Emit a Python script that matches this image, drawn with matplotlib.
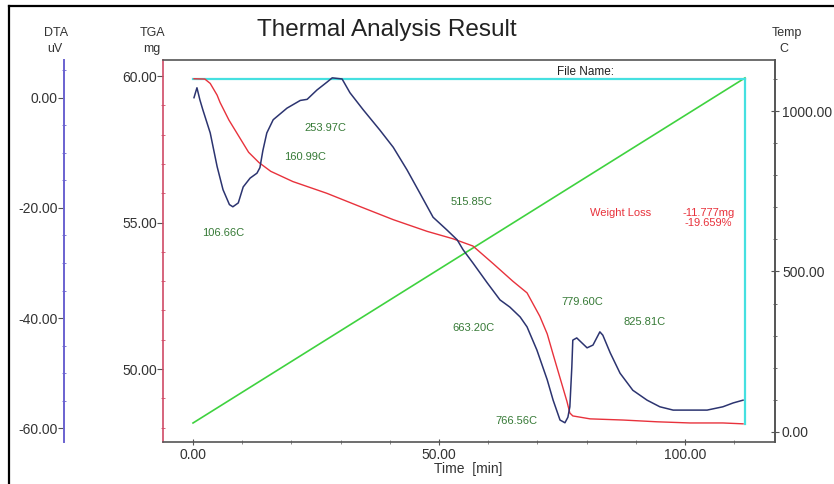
import matplotlib
matplotlib.use('Agg')
import matplotlib.pyplot as plt
from matplotlib.ticker import MultipleLocator, FormatStrFormatter

# DTA curve (time min, uV)
dta_t = [0.2, 0.8, 1.4, 2.0, 3.5, 4.9, 6.1, 7.4, 8.1, 9.2, 10.2, 11.6, 13.0, 13.6, 14.2, 15.0, 16.3,
         19.1, 21.8, 23.2, 25.2, 27.2, 28.3, 30.3, 31.9, 34.6, 38.0, 40.7, 43.5, 46.1, 48.8, 51.6,
         53.7, 54.9, 56.9, 59.8, 62.4, 64.4, 66.5, 67.9, 69.9, 72.0, 73.2, 74.6, 75.6, 76.2, 76.6,
         77.0, 77.2, 78.0, 80.1, 81.3, 82.7, 83.3, 84.8, 86.8, 89.4, 92.3, 94.9, 97.6, 101.0,
         104.5, 107.7, 109.8, 111.8]
dta_v = [0.0, 1.8, -0.4, -2.2, -6.4, -12.5, -16.7, -19.4, -19.8, -19.1, -16.2, -14.6, -13.7, -12.7,
         -9.6, -6.4, -4.0, -1.9, -0.5, -0.3, 1.4, 2.8, 3.6, 3.4, 0.9, -2.2, -5.9, -9.0, -13.1,
         -17.3, -21.7, -24.0, -25.8, -27.6, -30.0, -33.6, -36.7, -38.0, -39.8, -41.6, -45.8, -51.2,
         -54.9, -58.5, -59.0, -58.0, -56.1, -48.9, -44.0, -43.6, -45.4, -44.9, -42.5, -43.1, -46.3,
         -50.0, -53.1, -54.9, -56.1, -56.7, -56.7, -56.7, -56.1, -55.4, -54.9]

# TGA curve (time min, mg)
tga_t = [0.2, 2.4, 3.5, 4.9, 5.5, 7.3, 9.3, 11.3, 13.4, 15.8, 20.3, 27.2, 33.9, 40.7, 47.6, 52.8,
         56.9, 61.0, 65.0, 67.9, 70.5, 72.0, 73.2, 74.6, 76.0, 76.6, 77.2, 80.7, 87.4, 94.3,
         101.0, 107.7, 111.8]
tga_w = [59.91, 59.90, 59.75, 59.35, 59.10, 58.50, 57.95, 57.40, 57.05, 56.75, 56.40, 56.00,
         55.55, 55.10, 54.70, 54.45, 54.20, 53.60, 53.00, 52.60, 51.80, 51.20, 50.50, 49.70,
         48.90, 48.50, 48.40, 48.30, 48.26, 48.20, 48.16, 48.16, 48.13]

# temperature program (time min, C)
temp_t = [0.0, 112.2]
temp_c = [28.0, 1103.0]

# weight loss bracket
w_start = 59.907
w_end = 48.130
t_end = 112.2

peak_labels = ['106.66C', '160.99C', '253.97C', '515.85C', '663.20C', '766.56C', '779.60C', '825.81C']
peak_pos = [(6.1, 54.64), (22.8, 57.24), (27.0, 58.23), (56.7, 55.70), (57.1, 51.40),
            (65.7, 48.23), (79.1, 52.29), (91.7, 51.60)]

plt.rcParams['font.family'] = ['Liberation Sans', 'DejaVu Sans']
fig = plt.figure(figsize=(8.34, 4.84), dpi=100)
W, H = 834, 484
ax = fig.add_axes([163 / W, (H - 442) / H, (775 - 163) / W, (442 - 60) / H])

axis_gray = '#555555'
txt = '#333333'
red = '#e8323c'
navy = '#2c3470'
green = '#3fd23f'
cyan = '#45e0e0'
dark_green = '#367a36'
fs_tick = 10
fs_note = 8

# TGA axis (left)
ax.plot(tga_t, tga_w, color=red, lw=1.0, zorder=3)
ax.plot([0, t_end], [w_start, w_start], color=cyan, lw=1.6, zorder=2)
ax.plot([t_end, t_end], [w_start, w_end], color=cyan, lw=1.6, zorder=2)
ax.set_xlim(-6.1, 118.3)
ax.set_ylim(47.51, 60.55)
ax.yaxis.set_major_locator(MultipleLocator(5))
ax.yaxis.set_minor_locator(MultipleLocator(1))
ax.yaxis.set_major_formatter(FormatStrFormatter('%.2f'))
ax.xaxis.set_major_locator(MultipleLocator(50))
ax.xaxis.set_minor_locator(MultipleLocator(10))
ax.xaxis.set_major_formatter(FormatStrFormatter('%.2f'))
for s in ['top', 'bottom', 'right']:
    ax.spines[s].set_color(axis_gray)
    ax.spines[s].set_linewidth(1.2)
ax.spines['left'].set_color('#d04a66')
ax.spines['left'].set_linewidth(1.2)
ax.tick_params(axis='y', which='major', direction='out', length=4, color='#555555',
               labelsize=fs_tick, labelcolor=txt, pad=0.5)
ax.tick_params(axis='y', which='minor', direction='inout', length=3, color='#d04a66')
ax.tick_params(axis='x', which='major', direction='inout', length=5, color='#555555',
               labelsize=fs_tick, labelcolor=txt, pad=2)
ax.tick_params(axis='x', which='minor', direction='inout', length=3, color='#777777')

# DTA axis (far left)
ax_d = ax.twinx()
ax_d.plot(dta_t, dta_v, color=navy, lw=1.1, zorder=4)
ax_d.set_ylim(-62.49, 6.84)
ax_d.spines['left'].set_visible(True)
ax_d.spines['left'].set_position(('axes', (64 - 163) / (775 - 163)))
ax_d.spines['left'].set_color('#6a62d0')
ax_d.spines['left'].set_linewidth(1.4)
for s in ['top', 'bottom', 'right']:
    ax_d.spines[s].set_visible(False)
ax_d.yaxis.set_ticks_position('left')
ax_d.yaxis.set_label_position('left')
ax_d.yaxis.set_major_locator(MultipleLocator(20))
ax_d.yaxis.set_minor_locator(MultipleLocator(5))
ax_d.yaxis.set_major_formatter(FormatStrFormatter('%.2f'))
ax_d.tick_params(axis='y', which='major', direction='out', length=4, color='#555555',
                 labelsize=fs_tick, labelcolor=txt, pad=0.5)
ax_d.tick_params(axis='y', which='minor', direction='inout', length=3, color='#6a62d0')

# Temperature axis (right)
ax_t = ax.twinx()
ax_t.plot(temp_t, temp_c, color=green, lw=1.2, zorder=1)
ax_t.set_ylim(-31.2, 1158.9)
for s in ['top', 'bottom', 'left']:
    ax_t.spines[s].set_visible(False)
ax_t.spines['right'].set_color(axis_gray)
ax_t.spines['right'].set_linewidth(1.2)
ax_t.yaxis.set_major_locator(MultipleLocator(500))
ax_t.yaxis.set_minor_locator(MultipleLocator(100))
ax_t.yaxis.set_major_formatter(FormatStrFormatter('%.2f'))
ax_t.tick_params(axis='y', which='major', direction='inout', length=6, color='#555555',
                 labelsize=fs_tick, labelcolor=txt, pad=2)
ax_t.tick_params(axis='y', which='minor', direction='inout', length=3, color='#555555')

# draw order: keep DTA curve on top
ax.set_zorder(ax_t.get_zorder() + 1)
ax.patch.set_visible(False)
ax_d.set_zorder(ax.get_zorder() + 1)
ax_d.patch.set_visible(False)

for lab, (px, py) in zip(peak_labels, peak_pos):
    ax.text(px, py, lab, color=dark_green, fontsize=fs_note, ha='center', va='center', zorder=5)

ax.text(87.0, 55.32, 'Weight Loss', color=red, fontsize=fs_note, ha='center', va='center')
ax.text(99.4, 55.32, '-11.777mg', color=red, fontsize=fs_note, ha='left', va='center')
ax.text(100.0, 55.0, '-19.659%', color=red, fontsize=fs_note, ha='left', va='center')
ax.text(74.0, 60.14, 'File Name:', color='#222222', fontsize=8.5, ha='left', va='center')

fig.text(387 / W, 1 - 30 / H, 'Thermal Analysis Result', fontsize=17.5, color='#222222',
         ha='center', va='center')
fig.text(468 / W, 1 - 469 / H, 'Time  [min]', fontsize=10, color=txt, ha='center', va='center')
fig.text(56 / W, 1 - 33 / H, 'DTA', fontsize=9, color=txt, ha='center', va='center')
fig.text(55 / W, 1 - 49 / H, 'uV', fontsize=9, color=txt, ha='center', va='center')
fig.text(153 / W, 1 - 33 / H, 'TGA', fontsize=9, color=txt, ha='center', va='center')
fig.text(152 / W, 1 - 49 / H, 'mg', fontsize=9, color=txt, ha='center', va='center')
fig.text(787 / W, 1 - 33 / H, 'Temp', fontsize=9, color=txt, ha='center', va='center')
fig.text(784 / W, 1 - 49 / H, 'C', fontsize=9, color=txt, ha='center', va='center')

# black frame on top and left edges
fig.add_artist(plt.Line2D([9 / W, 9 / W], [0, 1 - 6 / H], color='black', lw=1.6))
fig.add_artist(plt.Line2D([9 / W, 1], [1 - 6 / H, 1 - 6 / H], color='black', lw=1.6))

fig.savefig('out.png', dpi=100)
